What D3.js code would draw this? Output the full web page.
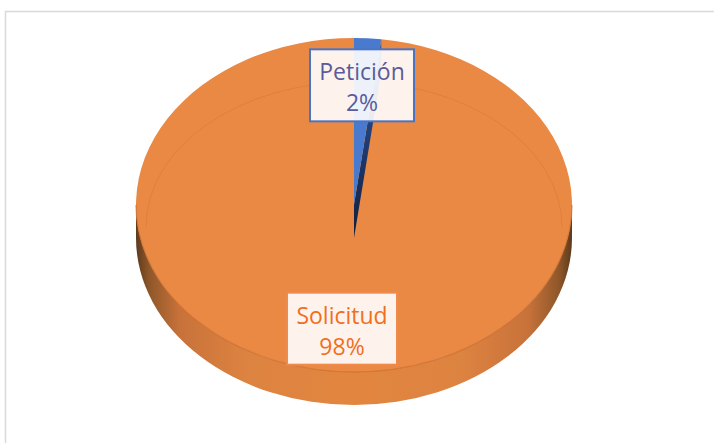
<!DOCTYPE html>
<html>
<head>
<meta charset="utf-8">
<script src="https://cdn.jsdelivr.net/npm/d3@7"></script>
<style>
  body { margin: 0; background: #fff; }
  svg { display: block; }
  text { font-family: "Open Sans", "Noto Sans", sans-serif; }
</style>
</head>
<body>
<svg id="chart" width="714" height="443"></svg>
<script>
// data
var categories = ["Petición", "Solicitud"];
var values = [2, 98];
var topColors = ["#4a7acd", "#ea8944"];
var textColors = ["#5a5b9b", "#f06f1f"];
var boxStroke = ["#4a74c4", "#ef8a4c"];

var svg = d3.select("#chart");

// chart frame
svg.append("rect")
    .attr("x", 5.5).attr("y", 11.5)
    .attr("width", 800).attr("height", 600)
    .attr("fill", "#fff")
    .attr("stroke", "#d9d9d9").attr("stroke-width", 1.5);

// 3d pie geometry
var cx = 354, cy = 205, rx = 218, ry = 167, depth = 33;

var total = d3.sum(values);
var pie = d3.pie().sort(null).value(function(d) { return d; });
var arcs = pie(values);
var pct = d3.format(".0%");

function pt(a, r) {
    return [cx + rx * r * Math.sin(a), cy - ry * r * Math.cos(a)];
}

var defs = svg.append("defs");
var sideGrad = defs.append("linearGradient")
    .attr("id", "sideGrad")
    .attr("gradientUnits", "userSpaceOnUse")
    .attr("x1", cx - rx).attr("x2", cx + rx).attr("y1", 0).attr("y2", 0);
[[0, "#5e3a1c"], [0.03, "#8f5729"], [0.1, "#c8723a"], [0.25, "#dd8341"], [0.5, "#e2863f"],
 [0.75, "#dd8341"], [0.9, "#c8723a"], [0.97, "#8f5729"], [1, "#5e3a1c"]].forEach(function(s) {
    sideGrad.append("stop").attr("offset", s[0]).attr("stop-color", s[1]);
});

var cutGrad = defs.append("linearGradient")
    .attr("id", "cutGrad")
    .attr("x1", 0).attr("x2", 0).attr("y1", 0).attr("y2", 1);
cutGrad.append("stop").attr("offset", 0).attr("stop-color", "#3560ad");
cutGrad.append("stop").attr("offset", 0.5).attr("stop-color", "#203d75");
cutGrad.append("stop").attr("offset", 1).attr("stop-color", "#121f3c");

// side (front half, all of it belongs to the big slice)
svg.append("path")
    .attr("d", "M" + (cx - rx) + "," + cy +
        " A" + rx + "," + ry + " 0 0 0 " + (cx + rx) + "," + cy +
        " L" + (cx + rx) + "," + (cy + depth) +
        " A" + rx + "," + ry + " 0 0 1 " + (cx - rx) + "," + (cy + depth) + " Z")
    .attr("fill", "url(#sideGrad)");

// top faces
var arc = d3.arc().innerRadius(0).outerRadius(rx);
var topFace = svg.append("g")
    .attr("transform", "translate(" + cx + "," + cy + ") scale(1," + (ry / rx) + ")");
topFace.selectAll("path.slice")
    .data(arcs)
    .enter().append("path")
    .attr("class", "slice")
    .attr("d", arc)
    .attr("fill", function(d, i) { return topColors[i]; });

// faint bevel line (back half only)
svg.append("path")
    .attr("d", "M" + (cx - rx + 10) + "," + (cy + 22) +
        " A" + (rx - 10) + "," + (ry - 22) + " 0 0 1 " + (cx + rx - 10) + "," + (cy + 22))
    .attr("fill", "none")
    .attr("stroke", "#b9622a").attr("stroke-opacity", 0.25).attr("stroke-width", 1);

// front edge of the top face
svg.append("path")
    .attr("d", "M" + (cx - rx) + "," + cy +
        " A" + rx + "," + ry + " 0 0 0 " + (cx + rx) + "," + cy)
    .attr("fill", "none")
    .attr("stroke", "#c4682c").attr("stroke-width", 1.2).attr("stroke-opacity", 0.7);

// cut face of the small slice
var a1 = arcs[0].endAngle;
var rim = pt(a1, 1);
svg.append("path")
    .attr("d", "M" + cx + "," + cy +
        " L" + cx + "," + (cy + depth) +
        " L" + rim[0] + "," + (rim[1] + depth) +
        " L" + rim[0] + "," + rim[1] + " Z")
    .attr("fill", "url(#cutGrad)");

// labels
var labelR = 0.73;
var boxW = [104, 110], boxH = 72;
arcs.forEach(function(d, i) {
    var mid = (d.startAngle + d.endAngle) / 2;
    var p = pt(mid, labelR);
    var g = svg.append("g").attr("transform", "translate(" + (p[0] - 2) + "," + (p[1] + 2) + ")");
    g.append("rect")
        .attr("x", -boxW[i] / 2).attr("y", -boxH / 2)
        .attr("width", boxW[i]).attr("height", boxH)
        .attr("fill", "#fff").attr("fill-opacity", 0.9)
        .attr("stroke", boxStroke[i]).attr("stroke-width", 2);
    g.append("text")
        .attr("text-anchor", "middle")
        .attr("y", -5)
        .attr("fill", textColors[i])
        .style("font-size", "23px")
        .text(categories[i]);
    g.append("text")
        .attr("text-anchor", "middle")
        .attr("y", 26)
        .attr("fill", textColors[i])
        .style("font-size", "23px")
        .text(pct(d.data / total));
});
</script>
</body>
</html>
